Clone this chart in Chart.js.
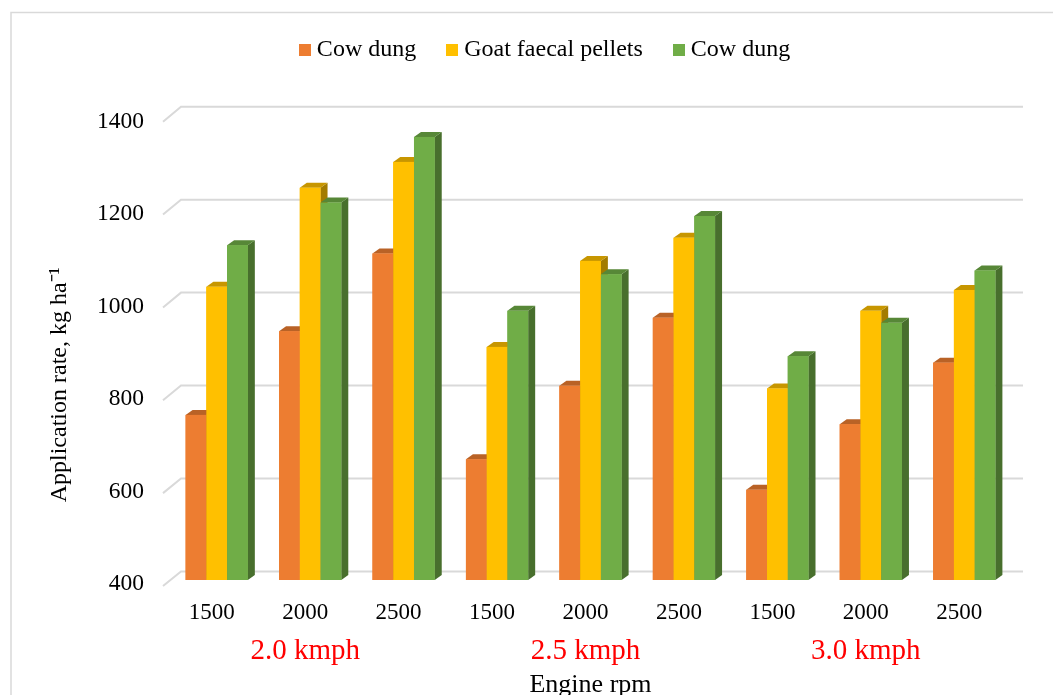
<!DOCTYPE html>
<html>
<head>
<meta charset="utf-8">
<script src="https://cdn.jsdelivr.net/npm/chart.js@4.4.1/dist/chart.umd.min.js"></script>
<style>
  html, body { margin: 0; padding: 0; background: #ffffff; }
  #wrap { width: 1053px; height: 695px; position: relative; }
</style>
</head>
<body>
<div id="wrap"><canvas id="c" width="1053" height="695"></canvas></div>
<script>
// ---- data ----
const speedLabels = ['2.0 kmph', '2.5 kmph', '3.0 kmph'];
const rpmLabels = ['1500', '2000', '2500'];
const seriesNames = ['Cow dung', 'Goat faecal pellets', 'Cow dung'];
const cowDungA = [757, 938, 1106, 661, 820, 967, 595, 737, 870];
const goatPellets = [1034, 1248, 1304, 904, 1090, 1140, 814, 982, 1027];
const cowDungB = [1124, 1216, 1358, 982, 1061, 1187, 884, 956, 1069];
const yTickValues = [400, 600, 800, 1000, 1200, 1400];
const seriesColors = ['#ED7D31', '#FFC000', '#70AD47'];

const categories = speedLabels.flatMap(() => rpmLabels.slice());
const speedRow = speedLabels.flatMap(s => rpmLabels.map((r, i) => (i === 1 ? s : '')));

const FONT = "'Liberation Serif', 'Times New Roman', serif";
Chart.defaults.font.family = FONT;
Chart.defaults.color = '#000000';

function shade(hex, k) {
  const n = parseInt(hex.slice(1), 16);
  const r = Math.round(((n >> 16) & 255) * k);
  const g = Math.round(((n >> 8) & 255) * k);
  const b = Math.round((n & 255) * k);
  return 'rgb(' + r + ',' + g + ',' + b + ')';
}
function swatch(color) {
  const c = document.createElement('canvas');
  c.width = 12; c.height = 12;
  const x = c.getContext('2d');
  x.fillStyle = color; x.fillRect(0, 0, 12, 12);
  return c;
}

const DX = 7, DY = 5;

const framePlugin = {
  id: 'frame',
  beforeDraw(chart) {
    const ctx = chart.ctx;
    ctx.save();
    ctx.strokeStyle = '#d9d9d9';
    ctx.lineWidth = 1.5;
    ctx.beginPath();
    ctx.moveTo(11, chart.height);
    ctx.lineTo(11, 12.5);
    ctx.lineTo(chart.width, 12.5);
    ctx.stroke();
    ctx.restore();
  }
};

const wallGridPlugin = {
  id: 'wallGrid',
  beforeDatasetsDraw(chart) {
    const ctx = chart.ctx;
    const ys = chart.scales.y;
    const {left, right} = chart.chartArea;
    ctx.save();
    ctx.strokeStyle = '#d9d9d9';
    ctx.lineWidth = 2;
    ys.ticks.forEach(t => {
      const yb = ys.getPixelForValue(t.value);
      const f = (t.value - ys.min) / (ys.max - ys.min);
      const yFront = yb + 6 - 1.8 * f;
      const yBack = yb - 8.5 - 2.3 * f;
      ctx.beginPath();
      ctx.moveTo(left - 7, yFront);
      ctx.lineTo(left + 11, yBack);
      ctx.lineTo(right + 12, yBack);
      ctx.stroke();
    });
    ctx.restore();
  }
};

const bar3dPlugin = {
  id: 'bar3d',
  afterDatasetsDraw(chart) {
    const ctx = chart.ctx;
    ctx.save();
    chart.data.datasets.forEach((ds, di) => {
      const meta = chart.getDatasetMeta(di);
      if (meta.hidden) return;
      const col = seriesColors[di];
      meta.data.forEach(bar => {
        const p = bar.getProps(['x', 'y', 'base', 'width'], true);
        const x0 = p.x - p.width / 2, x1 = p.x + p.width / 2;
        const top = p.y, base = p.base;
        // side face
        ctx.fillStyle = shade(col, 0.64);
        ctx.beginPath();
        ctx.moveTo(x1, top); ctx.lineTo(x1 + DX, top - DY);
        ctx.lineTo(x1 + DX, base - DY); ctx.lineTo(x1, base);
        ctx.closePath(); ctx.fill();
        // top face
        ctx.fillStyle = shade(col, 0.78);
        ctx.beginPath();
        ctx.moveTo(x0, top); ctx.lineTo(x0 + DX, top - DY);
        ctx.lineTo(x1 + DX, top - DY); ctx.lineTo(x1, top);
        ctx.closePath(); ctx.fill();
        // front face
        ctx.fillStyle = col;
        ctx.fillRect(x0, top, x1 - x0, base - top);
      });
    });
    ctx.restore();
  }
};

const datasets = [cowDungA, goatPellets, cowDungB].map((vals, i) => ({
  label: seriesNames[i],
  data: vals,
  base: yTickValues[0],
  backgroundColor: seriesColors[i],
  borderWidth: 0,
  categoryPercentage: 0.666,
  barPercentage: 1.0
}));

new Chart(document.getElementById('c'), {
  type: 'bar',
  data: { labels: categories, datasets: datasets },
  options: {
    responsive: false,
    animation: false,
    devicePixelRatio: 1,
    layout: { padding: { top: 1.5, left: 84, right: 42, bottom: 0 } },
    plugins: {
      tooltip: { enabled: false },
      title: {
        display: true, text: '', weight: 500,
        font: { size: 10, lineHeight: 1 },
        padding: { top: 36, bottom: 0 }
      },
      legend: {
        position: 'top',
        labels: {
          font: { family: FONT, size: 24 },
          color: '#000000',
          usePointStyle: true,
          boxWidth: 0.01,
          boxHeight: 12,
          padding: 36,
          generateLabels(chart) {
            const items = Chart.defaults.plugins.legend.labels.generateLabels(chart);
            items.forEach(it => {
              it.pointStyle = swatch(seriesColors[it.datasetIndex]);
              it.lineWidth = 0;
              it.strokeStyle = 'rgba(0,0,0,0)';
            });
            return items;
          }
        }
      }
    },
    scales: {
      x: {
        type: 'category',
        position: 'bottom',
        offset: true,
        weight: 0,
        grid: { display: false, drawTicks: false },
        border: { display: false },
        ticks: {
          autoSkip: false, maxRotation: 0, minRotation: 0,
          padding: 19, labelOffset: -5,
          font: { family: FONT, size: 23 }, color: '#000000'
        },
        afterFit(s) { s.height = 52; }
      },
      x2: {
        type: 'category',
        axis: 'x',
        position: 'bottom',
        labels: speedRow,
        offset: true,
        weight: 1,
        grid: { display: false, drawTicks: false },
        border: { display: false },
        ticks: {
          autoSkip: false, maxRotation: 0, minRotation: 0,
          padding: 2, labelOffset: -5,
          font: { family: FONT, size: 29 }, color: '#FF0000'
        },
        title: {
          display: true, text: 'Engine rpm', color: '#000000',
          font: { family: FONT, size: 26 },
          padding: { top: 0, bottom: -5.6 }
        },
        afterFit(s) { s.height = 63; }
      },
      y: {
        type: 'linear',
        position: 'left',
        min: yTickValues[0],
        max: yTickValues[yTickValues.length - 1],
        grid: { display: false, drawTicks: false },
        border: { display: false },
        afterBuildTicks(s) { s.ticks = yTickValues.map(v => ({ value: v })); },
        ticks: {
          padding: 26, labelOffset: 4,
          callback: v => String(v),
          font: { family: FONT, size: 23.5 }, color: '#000000'
        },
        title: {
          display: true,
          text: 'Application rate, kg ha\u207B\u00B9' + ' '.repeat(12),
          color: '#000000',
          font: { family: FONT, size: 24 },
          padding: { top: -38.9, bottom: 0 }
        },
        afterFit(s) { s.width = 86; }
      }
    }
  },
  plugins: [framePlugin, wallGridPlugin, bar3dPlugin]
});
</script>
</body>
</html>
